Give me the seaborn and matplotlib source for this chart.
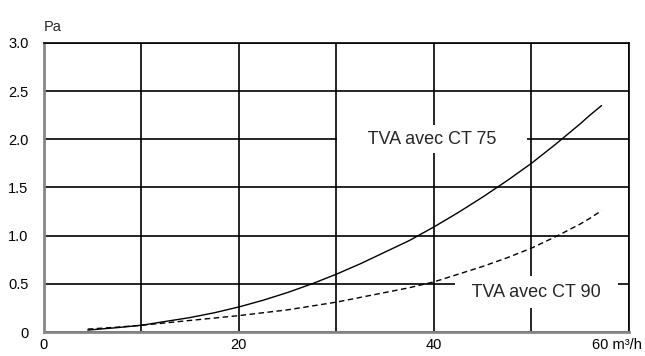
import matplotlib
matplotlib.use("Agg")
import matplotlib.pyplot as plt
import matplotlib.transforms as mtransforms
import seaborn as sns
import pandas as pd

# values
flow = [4.5, 7.5, 10, 12.5, 15, 17.5, 20, 22.5, 25, 27.5, 30, 32.5, 35,
        37.5, 40, 42.5, 45, 47.5, 50, 52.5, 55, 56, 57.2]
pa_ct75 = [0.02, 0.045, 0.07, 0.11, 0.15, 0.20, 0.26, 0.33, 0.41, 0.50, 0.60,
           0.71, 0.83, 0.95, 1.09, 1.24, 1.40, 1.57, 1.75, 1.95, 2.16, 2.25, 2.35]
pa_ct90 = [0.03, 0.05, 0.07, 0.095, 0.12, 0.145, 0.17, 0.20, 0.23, 0.27, 0.31,
           0.36, 0.41, 0.46, 0.52, 0.60, 0.68, 0.77, 0.87, 0.99, 1.12, 1.18, 1.26]
x_ticks = [0, 10, 20, 30, 40, 50, 60]
x_labels = ["0", "", "20", "", "40", "", "60 m\u00b3/h"]
y_ticks = [0, 0.5, 1.0, 1.5, 2.0, 2.5, 3.0]
y_labels = ["0", "0.5", "1.0", "1.5", "2.0", "2.5", "3.0"]

sns.set_style("white")
plt.rcParams["font.family"] = ["Liberation Sans", "DejaVu Sans"]

df = pd.DataFrame({"flow": flow, "ct75": pa_ct75, "ct90": pa_ct90})

fig = plt.figure(figsize=(6.45, 3.56), dpi=100)
ax = fig.add_axes([0.068, 0.0674, 0.907, 0.812])

sns.lineplot(data=df, x="flow", y="ct75", ax=ax, color="black", lw=1.0)
sns.lineplot(data=df, x="flow", y="ct90", ax=ax, color="black", lw=1.0,
             linestyle=(0, (4, 2.5)))

ax.set_xlim(0, 60)
ax.set_ylim(0, 3.0)
ax.set_xticks(x_ticks)
ax.set_xticklabels(x_labels)
ax.set_yticks(y_ticks)
ax.set_yticklabels(y_labels)
ax.set_xlabel("")
ax.set_ylabel("")

ax.set_axisbelow(True)
ax.grid(True, color="black", lw=1.2)
ax.tick_params(axis="both", labelsize=10.5, colors="black", direction="out",
               length=3, width=1.5, color="#888888")
ax.tick_params(axis="x", pad=1.5)
ax.tick_params(axis="y", pad=8)

for side in ["left", "bottom"]:
    ax.spines[side].set_color("#888888")
    ax.spines[side].set_linewidth(2)
for side in ["top", "right"]:
    ax.spines[side].set_color("black")
    ax.spines[side].set_linewidth(1.2)

# shift the last x label so "60 m³/h" sits left of the axis end
last = ax.get_xticklabels()[-1]
last.set_transform(last.get_transform() +
                   mtransforms.ScaledTranslation(-12 / 100, 0, fig.dpi_scale_trans))

ax.text(0, 1.055, "Pa", transform=ax.transAxes, fontsize=10.5,
        ha="left", va="center")

ax.text(39.8, 2.0, "     TVA avec CT 75     ", fontsize=13, ha="center",
        va="center", bbox=dict(boxstyle="square,pad=0.3", fc="white", ec="none"))
ax.text(50.5, 0.415, "  TVA avec CT 90  ", fontsize=13, ha="center",
        va="center", bbox=dict(boxstyle="square,pad=0.4", fc="white", ec="none"))

fig.savefig("out.png", dpi=100)
